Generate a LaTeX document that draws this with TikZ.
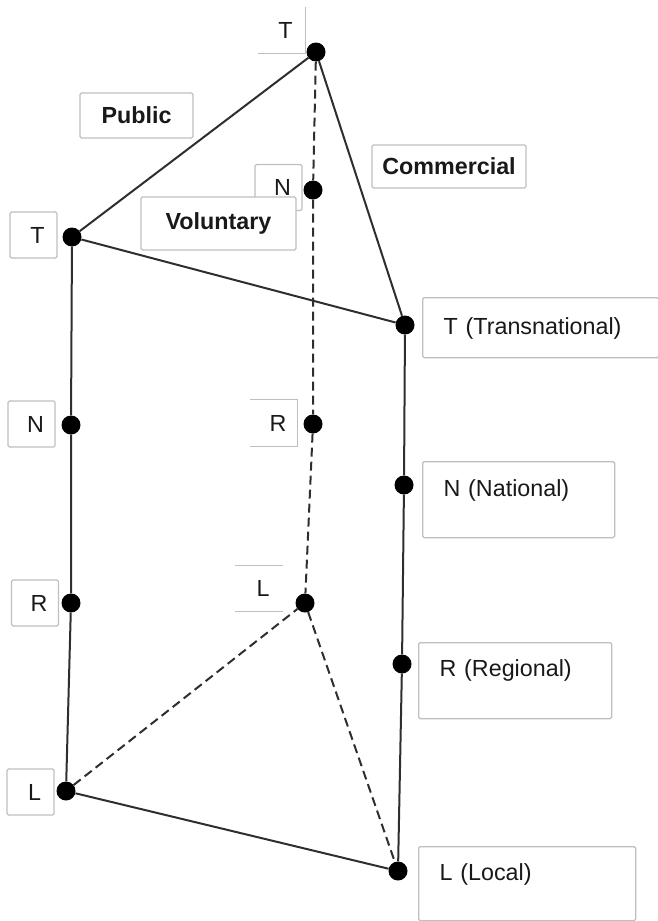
\documentclass[tikz,border=0pt]{standalone}
\usepackage{fontspec}
\setmainfont{Liberation Sans}
\definecolor{boxgray}{rgb}{0.75,0.75,0.75}
\definecolor{linegray}{rgb}{0.18,0.18,0.18}
\newcommand{\tagfont}{\fontsize{23.3}{28}\selectfont}

\begin{document}
\begin{tikzpicture}[x=1pt,y=-1pt,
  dot/.style={circle,fill=black,inner sep=0pt,minimum size=19pt},
  tagbox/.style={draw=boxgray,line width=1.3pt,fill=white,rounded corners=1.5pt,
    inner sep=0pt,text=black!90,font=\tagfont},
  opentag/.style={inner sep=0pt,minimum width=47pt,minimum height=46pt,
    text=black!90,font=\tagfont,execute at begin node=\hspace*{8pt}},
  smalltag/.style={tagbox,minimum width=47pt,minimum height=46pt,
    execute at begin node=\hspace*{8pt}},
  boldtag/.style n args={2}{tagbox,font=\tagfont\bfseries,minimum width=#1,minimum height=#2},
  widetag/.style n args={3}{tagbox,anchor=north west,align=left,inner xsep=21pt,
    text width=#1,text height=#2,text depth=#3},
  side/.style={draw=boxgray,line width=1.3pt},
  edge/.style={draw=linegray,line width=2pt},
  back/.style={edge,dash pattern=on 9pt off 5pt}]

\useasboundingbox (0,0) rectangle (658,921);

% labels of the planes
\node[boldtag={113pt}{45pt}] (public) at (136.5,115.5) {Public};
\node[boldtag={154pt}{43pt}] (commercial) at (449,166.5) {Commercial};
\node[smalltag] (tagTn) at (278.5,187.5) {N};
\node[boldtag={155pt}{53pt}] (voluntary) at (218.5,223.5) {Voluntary};

% labels at the left edge
\node[smalltag] (tagTl) at (33.5,235) {T};
\node[smalltag] (tagNl) at (31.5,424) {N};
\node[smalltag] (tagRl) at (35,603) {R};
\node[smalltag] (tagLl) at (30.5,792) {L};

% labels at the back edge, boxes only partly drawn
\node[opentag] (tagTb) at (281.5,30) {T};
\draw[side] (tagTb.north east) -- (tagTb.south east) -- (tagTb.south west);
\node[opentag] (tagRb) at (274,423) {R};
\draw[side] (tagRb.north west) -- (tagRb.north east) -- (tagRb.south east) -- (tagRb.south west);
\node[opentag] (tagLb) at (259,588.5) {L};
\draw[side] (tagLb.north west) -- (tagLb.north east);
\draw[side] (tagLb.south west) -- (tagLb.south east);

% labels at the right edge
\node[widetag={194pt}{36.5pt}{23.5pt}] (tagTr) at (422,297) {T (Transnational)};
\node[widetag={150pt}{34.5pt}{41.5pt}] (tagNr) at (422,461) {N (National)};
\node[widetag={151pt}{33.5pt}{42.5pt}] (tagRr) at (418,642) {R (Regional)};
\node[widetag={175pt}{33.5pt}{40.5pt}] (tagLr) at (418,846) {L (Local)};

% points of the prism
\node[dot] (bT) at (316,52) {};
\node[dot] (bN) at (313,190) {};
\node[dot] (bR) at (313,424) {};
\node[dot] (bL) at (305,603) {};
\node[dot] (lT) at (72,237) {};
\node[dot] (lN) at (71,425) {};
\node[dot] (lR) at (71,603) {};
\node[dot] (lL) at (66,791) {};
\node[dot] (rT) at (405,325) {};
\node[dot] (rN) at (404,485) {};
\node[dot] (rR) at (402,664) {};
\node[dot] (rL) at (398,871) {};

\draw[back] (bT) -- (bN) -- (bR) -- (bL);
\draw[back] (lL) -- (bL) -- (rL);

\draw[edge] (lT) -- (bT) -- (rT) -- (lT);
\draw[edge] (lT) -- (lN) -- (lR) -- (lL);
\draw[edge] (rT) -- (rN) -- (rR) -- (rL);
\draw[edge] (lL) -- (rL);
\end{tikzpicture}
\end{document}
